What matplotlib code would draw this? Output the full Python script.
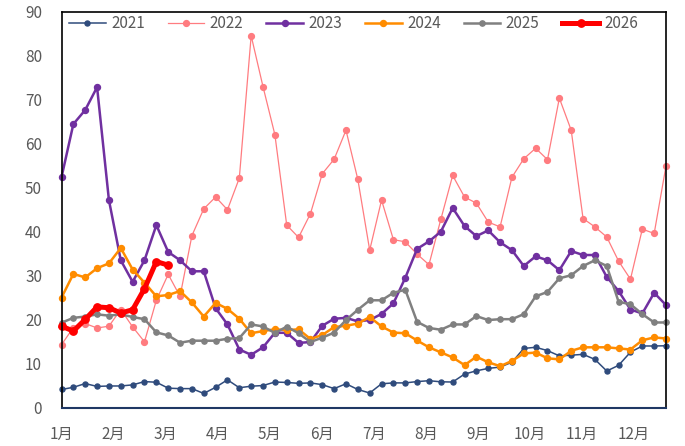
import numpy as np
import matplotlib
matplotlib.use("Agg")
import matplotlib.pyplot as plt

plt.rcParams['font.family'] = ['Noto Sans CJK SC', 'DejaVu Sans']

# ---- 数据（每周一个点，共52周） ----
y2021 = [4.1, 4.6, 5.45, 4.8, 4.9, 4.9, 5.15, 5.9, 5.75, 4.4,
         4.3, 4.3, 3.2, 4.6, 6.3, 4.5, 4.85, 5.0, 5.8, 5.7,
         5.5, 5.6, 5.2, 4.3, 5.4, 4.1, 3.3, 5.4, 5.6, 5.6,
         5.9, 6.1, 5.85, 5.8, 7.6, 8.35, 8.9, 9.2, 10.3, 13.45,
         13.7, 12.95, 11.75, 11.9, 12.1, 10.95, 8.3, 9.6, 12.6, 14.0,
         14.0, 14.05]
y2022 = [14.3, 18.2, 19.1, 18.1, 18.5, 22.3, 18.35, 14.95, 24.4, 30.3,
         25.3, 39.1, 45.2, 47.9, 45.0, 52.2, 84.6, 73.0, 62.1, 41.5,
         38.7, 44.1, 53.2, 56.5, 63.1, 51.9, 35.8, 47.2, 38.2, 37.7,
         34.9, 32.5, 42.8, 52.8, 47.9, 46.5, 42.2, 41.1, 52.4, 56.6,
         59.0, 56.4, 70.4, 63.1, 43.0, 41.1, 38.8, 33.3, 29.2, 40.6,
         39.6, 55.0]
y2023 = [52.4, 64.5, 67.7, 72.9, 47.2, 33.5, 28.6, 33.5, 41.5, 35.4,
         33.5, 31.0, 31.0, 22.6, 18.9, 13.2, 12.0, 13.7, 17.0, 17.0,
         14.7, 14.9, 18.6, 20.2, 20.4, 19.6, 19.9, 21.3, 23.7, 29.5,
         36.1, 37.8, 40.0, 45.4, 41.3, 39.0, 40.3, 37.6, 35.8, 32.2,
         34.4, 33.5, 31.25, 35.6, 34.7, 34.7, 29.7, 26.5, 22.3, 21.4,
         26.1, 23.3]
y2024 = [25.0, 30.4, 29.6, 31.7, 32.8, 36.3, 31.4, 28.4, 25.3, 25.6,
         26.5, 23.9, 20.7, 23.8, 22.45, 20.2, 16.9, 17.4, 17.8, 17.6,
         17.8, 15.6, 16.5, 18.3, 18.6, 19.1, 20.6, 18.45, 17.05, 16.9,
         15.25, 13.7, 12.55, 11.4, 9.65, 11.55, 10.3, 9.4, 10.6, 12.3,
         12.5, 11.2, 10.95, 12.9, 13.7, 13.7, 13.7, 13.45, 13.2, 15.3,
         15.95, 15.7]
y2025 = [19.3, 20.4, 20.7, 21.2, 20.9, 21.2, 20.6, 20.1, 17.1, 16.4,
         14.75, 15.2, 15.2, 15.2, 15.65, 15.8, 18.9, 18.45, 16.95, 18.4,
         16.9, 14.9, 15.9, 17.05, 19.9, 22.25, 24.4, 24.4, 26.1, 26.8,
         19.5, 18.1, 17.7, 18.9, 18.9, 20.8, 19.9, 20.1, 20.1, 21.25,
         25.3, 26.3, 29.4, 30.1, 32.2, 33.5, 32.2, 24.05, 23.5, 21.25,
         19.35, 19.35]
y2026 = [18.5, 17.4, 20.05, 22.9, 22.7, 21.5, 22.25, 27.05, 33.2, 32.4]

months = ['1月', '2月', '3月', '4月', '5月', '6月',
          '7月', '8月', '9月', '10月', '11月', '12月']

# ---- 样式 ----
series = [
    ('2021', y2021, '#2F4B7C', 1.1, 3.6),
    ('2022', y2022, '#FF7C80', 0.9, 4.2),
    ('2023', y2023, '#7030A0', 1.8, 4.3),
    ('2024', y2024, '#FF8C00', 1.8, 4.3),
    ('2025', y2025, '#808080', 1.8, 3.8),
    ('2026', y2026, '#FF0000', 3.6, 5.3),
]

fig = plt.figure(figsize=(6.85, 4.46), dpi=100)
ax = fig.add_axes([0.0898, 0.0863, 0.8825, 0.8868])

for name, vals, c, lw, ms in series:
    x = np.arange(len(vals))
    ax.plot(x, vals, color=c, lw=lw, marker='o', ms=ms, label=name,
            clip_on=False)

ax.set_xlim(0, 51)
ax.set_ylim(0, 90)
ax.set_yticks(np.arange(0, 91, 10))
ax.set_xticks(np.arange(12) * 4.39)
ax.set_xticklabels(months)
ax.tick_params(axis='both', length=0, labelsize=11, labelcolor='#595959')
ax.tick_params(axis='x', pad=13)
ax.tick_params(axis='y', pad=14)

for s in ['top', 'right', 'left']:
    ax.spines[s].set_color('black')
    ax.spines[s].set_linewidth(1.2)
ax.spines['bottom'].set_color('#1F3864')
ax.spines['bottom'].set_linewidth(1.5)

leg = ax.legend(loc='center left', bbox_to_anchor=(0.0, 0.97), ncol=6,
                frameon=False, fontsize=11, borderpad=0,
                handlelength=2.4, handletextpad=0.35, columnspacing=1.5)
for t in leg.get_texts():
    t.set_color('#595959')

fig.savefig('out.png', dpi=100)
